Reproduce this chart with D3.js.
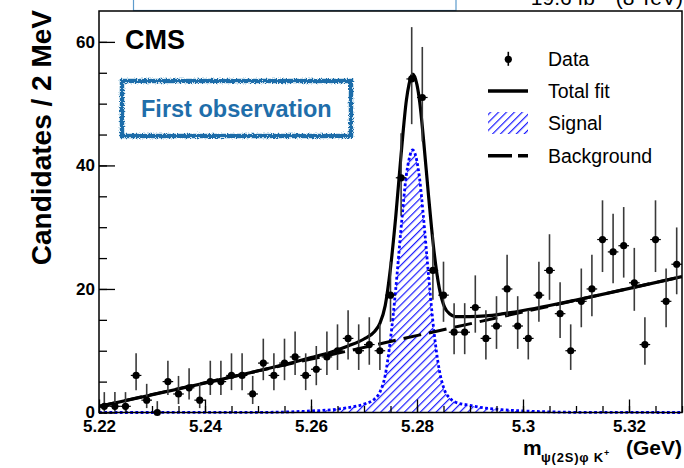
<!DOCTYPE html>
<html><head><meta charset="utf-8">
<script src="https://cdn.jsdelivr.net/npm/d3@7"></script>
<style>
html,body{margin:0;padding:0;background:#fff;}
svg{display:block;font-family:"Liberation Sans",Arial,Helvetica,sans-serif;}
</style></head><body>
<svg id="chart" width="684" height="468"></svg>
<script>
// Histogram of candidates: bin centres (GeV), counts and 68% Poisson intervals
const binCenters = [5.221,5.223,5.225,5.227,5.229,5.231,5.233,5.235,5.237,5.239,
  5.241,5.243,5.245,5.247,5.249,5.251,5.253,5.255,5.257,5.259,
  5.261,5.263,5.265,5.267,5.269,5.271,5.273,5.275,5.277,5.279,
  5.281,5.283,5.285,5.287,5.289,5.291,5.293,5.295,5.297,5.299,
  5.301,5.303,5.305,5.307,5.309,5.311,5.313,5.315,5.317,5.319,
  5.321,5.323,5.325,5.327,5.329];
const counts = [1,1,1,6,2,0,5,3,4,2,
  5,5,6,6,3,8,6,8,9,6,
  7,9,10,12,10,11,10,19,38,54,
  51,23,19,13,13,17,12,14,20,14,
  12,19,23,16,10,18,20,28,26,27,
  21,11,28,18,24];
const errLow = [0.17,0.17,0.17,3.62,0.71,0,2.84,1.37,2.09,0.71,
  2.84,2.84,3.62,3.62,1.37,5.23,3.62,5.23,6.06,3.62,
  4.42,6.06,6.89,8.59,6.89,7.73,6.89,14.68,31.87,46.68,
  43.88,18.24,14.68,9.44,9.44,12.92,8.59,10.30,15.57,10.30,
  8.59,14.68,18.24,12.05,6.89,13.80,15.57,22.74,20.93,21.84,
  16.46,7.73,22.74,13.80,19.14];
const errHigh = [3.30,3.30,3.30,9.58,4.64,1.84,8.38,5.92,7.16,4.64,
  8.38,8.38,9.58,9.58,5.92,11.95,9.58,11.95,13.11,9.58,
  10.77,13.11,14.27,16.56,14.27,15.42,14.27,24.42,45.21,62.39,
  59.18,28.86,24.42,17.70,17.70,22.20,16.56,18.83,25.54,18.83,
  16.56,24.42,28.86,21.08,14.27,23.31,25.54,34.35,32.16,33.26,
  26.65,15.42,34.35,23.31,29.96];

// Fit curves sampled along the mass axis
const fitMass = [5.2200,5.2500,5.2560,5.2600,5.2640,5.2670,5.2700,5.2720,5.2730,5.2740,
  5.2750,5.2760,5.2770,5.2780,5.2785,5.2792,5.2800,5.2805,5.2812,5.2822,
  5.2832,5.2842,5.2852,5.2862,5.2872,5.2900,5.2930,5.2960,5.3000,5.3050,
  5.3100,5.3300];
const signalFit = [0,0.02,0.1,0.25,0.45,0.8,1.35,2.2,3.3,6.0,
  11.9,20.1,29.9,38.5,41.0,42.5,40.6,37.8,31.8,22.0,
  13.1,6.9,3.6,2.3,1.7,1.15,0.7,0.45,0.25,0.1,
  0.03,0];
const totalFit = [1.0,6.75,7.97,8.89,9.85,10.77,11.9,13.13,14.42,17.31,
  23.4,31.79,41.78,50.57,53.17,54.8,53.05,50.35,44.48,34.87,
  26.16,20.16,17.05,15.94,15.53,15.51,15.64,15.96,16.52,17.33,
  18.21,22.0];
const bkgMass = [5.22, 5.33];
const bkgFit = [1.0, 22.0];

const xMajorTicks = [5.22,5.24,5.26,5.28,5.30,5.32];
const xTickLabels = ["5.22","5.24","5.26","5.28","5.3","5.32"];
const yMajorTicks = [0,20,40,60];
const yTickLabels = ["0","20","40","60"];
const legendLabels = ["Data","Total fit","Signal","Background"];

const FONT = '"Liberation Sans",Arial,Helvetica,sans-serif';
const frame = {left:99, right:682, top:11, bottom:412.5};
const svg = d3.select("#chart");

const x = d3.scaleLinear().domain([5.22,5.33]).range([frame.left, frame.right]);
const y = d3.scaleLinear().domain([0,65]).range([frame.bottom, frame.top]);

const defs = svg.append("defs");
const hatch = defs.append("pattern").attr("id","hatch")
  .attr("patternUnits","userSpaceOnUse").attr("width",5.6).attr("height",5.6)
  .attr("patternTransform","rotate(45)");
hatch.append("line").attr("x1",0.6).attr("y1",0).attr("x2",0.6).attr("y2",5.6)
  .attr("stroke","#1a1aff").attr("stroke-width",1.2);
defs.append("clipPath").attr("id","plotClip").append("rect")
  .attr("x",frame.left).attr("y",frame.top)
  .attr("width",frame.right-frame.left).attr("height",frame.bottom-frame.top+2);
const rough = defs.append("filter").attr("id","rough")
  .attr("x","-10%").attr("y","-30%").attr("width","120%").attr("height","160%");
rough.append("feTurbulence").attr("type","fractalNoise").attr("baseFrequency",0.8)
  .attr("numOctaves",2).attr("seed",4).attr("result","noise");
rough.append("feDisplacementMap").attr("in","SourceGraphic").attr("in2","noise")
  .attr("scale",4.5).attr("xChannelSelector","R").attr("yChannelSelector","G");

// Header box above the frame and luminosity label
svg.append("rect").attr("x",133.5).attr("y",-20).attr("width",322.5).attr("height",30.5)
  .attr("fill","none").attr("stroke","#5d9bcc").attr("stroke-width",1.2);
const lumi = svg.append("text").attr("x",683).attr("y",5).attr("text-anchor","end")
  .attr("font-size",21).attr("font-family",FONT).attr("fill","#000");
lumi.append("tspan").text("19.6 fb");
lumi.append("tspan").attr("dy",-8).attr("font-size",13).text("\u22121");
lumi.append("tspan").attr("dy",8).text(" (8 TeV)");

const plot = svg.append("g").attr("clip-path","url(#plotClip)");

// Signal component: hatched area with dotted outline
const sigPts = fitMass.map((m,i)=>[m, signalFit[i]]);
plot.append("path").datum(sigPts)
  .attr("d", d3.area().x(d=>x(d[0])).y0(y(0)).y1(d=>y(d[1])).curve(d3.curveMonotoneX))
  .attr("fill","url(#hatch)");
plot.append("path").datum(sigPts)
  .attr("d", d3.line().x(d=>x(d[0])).y(d=>y(d[1])).curve(d3.curveMonotoneX))
  .attr("fill","none").attr("stroke","#0000ff").attr("stroke-width",2.8)
  .attr("stroke-dasharray","2.8 2.4");

// Background component: dashed
plot.append("path").datum(bkgMass.map((m,i)=>[m,bkgFit[i]]))
  .attr("d", d3.line().x(d=>x(d[0])).y(d=>y(d[1])))
  .attr("fill","none").attr("stroke","#000").attr("stroke-width",3)
  .attr("stroke-dasharray","18 8");

// Total fit
plot.append("path").datum(fitMass.map((m,i)=>[m,totalFit[i]]))
  .attr("d", d3.line().x(d=>x(d[0])).y(d=>y(d[1])).curve(d3.curveMonotoneX))
  .attr("fill","none").attr("stroke","#000").attr("stroke-width",3.2)
  .attr("stroke-linejoin","round");

// Axes: ticks pointing into the frame
function styleAxis(g){
  g.select(".domain").remove();
  g.selectAll(".tick line").attr("stroke","#000").attr("stroke-width",1.3);
  g.selectAll("text").attr("font-family",FONT).attr("font-size",17)
    .attr("font-weight","bold").attr("fill","#000");
}
const xMinor = d3.range(0,23).map(i=>5.22+i*0.005);
svg.append("g").attr("transform",`translate(0,${frame.bottom})`)
  .call(d3.axisBottom(x).tickValues(xMinor).tickSize(-6.5).tickFormat(""))
  .call(styleAxis);
svg.append("g").attr("transform",`translate(0,${frame.bottom})`)
  .call(d3.axisBottom(x).tickValues(xMajorTicks).tickSize(-13).tickPadding(7.5)
    .tickFormat((d,i)=>xTickLabels[i]))
  .call(styleAxis);
const yMinor = d3.range(0,13).map(i=>i*5);
svg.append("g").attr("transform",`translate(${frame.left},0)`)
  .call(d3.axisLeft(y).tickValues(yMinor).tickSize(-8).tickFormat(""))
  .call(styleAxis);
svg.append("g").attr("transform",`translate(${frame.left},0)`)
  .call(d3.axisLeft(y).tickValues(yMajorTicks).tickSize(-16).tickPadding(4)
    .tickFormat((d,i)=>yTickLabels[i]))
  .call(styleAxis);

// Frame
svg.append("rect").attr("x",frame.left).attr("y",frame.top)
  .attr("width",frame.right-frame.left).attr("height",frame.bottom-frame.top)
  .attr("fill","none").attr("stroke","#000").attr("stroke-width",1.5);

// Data points with error bars
const halfBin = (x(5.222)-x(5.22))/2;
const pts = svg.append("g").selectAll("g").data(counts).join("g");
pts.append("line")
  .attr("x1",(d,i)=>x(binCenters[i])).attr("x2",(d,i)=>x(binCenters[i]))
  .attr("y1",(d,i)=>y(errLow[i])).attr("y2",(d,i)=>y(errHigh[i]))
  .attr("stroke","#3a3a3a").attr("stroke-width",1.6);
pts.append("line")
  .attr("x1",(d,i)=>x(binCenters[i])-halfBin).attr("x2",(d,i)=>x(binCenters[i])+halfBin)
  .attr("y1",d=>y(d)).attr("y2",d=>y(d))
  .attr("stroke","#000").attr("stroke-width",1.2);
pts.append("circle")
  .attr("cx",(d,i)=>x(binCenters[i])).attr("cy",d=>y(d)).attr("r",3.6).attr("fill","#000");

// CMS label and annotation box
svg.append("text").attr("x",125).attr("y",49).attr("font-family",FONT)
  .attr("font-size",27).attr("font-weight","bold").attr("fill","#000").text("CMS");
svg.append("rect").attr("x",122).attr("y",81).attr("width",229).attr("height",55)
  .attr("fill","none").attr("stroke","#1c6ca9").attr("stroke-width",4.4)
  .attr("filter","url(#rough)");
svg.append("text").attr("x",141).attr("y",117).attr("font-family",FONT)
  .attr("font-size",23.5).attr("font-weight","bold").attr("fill","#1f6eaa")
  .text("First observation");

// Legend
const legX0 = 488, legX1 = 528, legText = 548;
const rows = [59.3, 91, 123, 155.7];
const leg = svg.append("g");
leg.append("line").attr("x1",508.3).attr("x2",508.3).attr("y1",rows[0]-7.5).attr("y2",rows[0]+6.5)
  .attr("stroke","#000").attr("stroke-width",1.6);
leg.append("circle").attr("cx",508.3).attr("cy",rows[0]).attr("r",3.6).attr("fill","#000");
leg.append("line").attr("x1",legX0).attr("x2",legX1).attr("y1",rows[1]).attr("y2",rows[1])
  .attr("stroke","#000").attr("stroke-width",3.4);
leg.append("rect").attr("x",legX0).attr("y",rows[2]-11).attr("width",legX1-legX0).attr("height",22)
  .attr("fill","url(#hatch)");
leg.append("line").attr("x1",legX0).attr("x2",legX1).attr("y1",rows[3]).attr("y2",rows[3])
  .attr("stroke","#000").attr("stroke-width",3.4).attr("stroke-dasharray","24 6");
leg.selectAll("text.lab").data(legendLabels).join("text").attr("class","lab")
  .attr("x",legText).attr("y",(d,i)=>rows[i]+6.8)
  .attr("font-family",FONT).attr("font-size",19.5).attr("fill","#000").text(d=>d);

// Axis titles
svg.append("text").attr("transform","translate(51,10) rotate(-90)")
  .attr("text-anchor","end").attr("font-family",FONT).attr("font-size",28)
  .attr("font-weight","bold").attr("fill","#000").text("Candidates / 2 MeV");
svg.append("text").attr("x",523).attr("y",455).attr("font-family",FONT)
  .attr("font-size",21).attr("font-weight","bold").attr("fill","#000").text("m");
const sub = svg.append("text").attr("x",541).attr("y",462).attr("font-family",FONT)
  .attr("font-size",13).attr("font-weight","bold").attr("fill","#000")
  .attr("letter-spacing",0.8);
sub.append("tspan").text("\u03c8(2S)\u03c6 K");
sub.append("tspan").attr("dy",-6).attr("font-size",9).text("+");
svg.append("text").attr("x",682).attr("y",455).attr("text-anchor","end").attr("font-family",FONT)
  .attr("font-size",21).attr("font-weight","bold").attr("fill","#000").text("(GeV)");
</script>
</body></html>
